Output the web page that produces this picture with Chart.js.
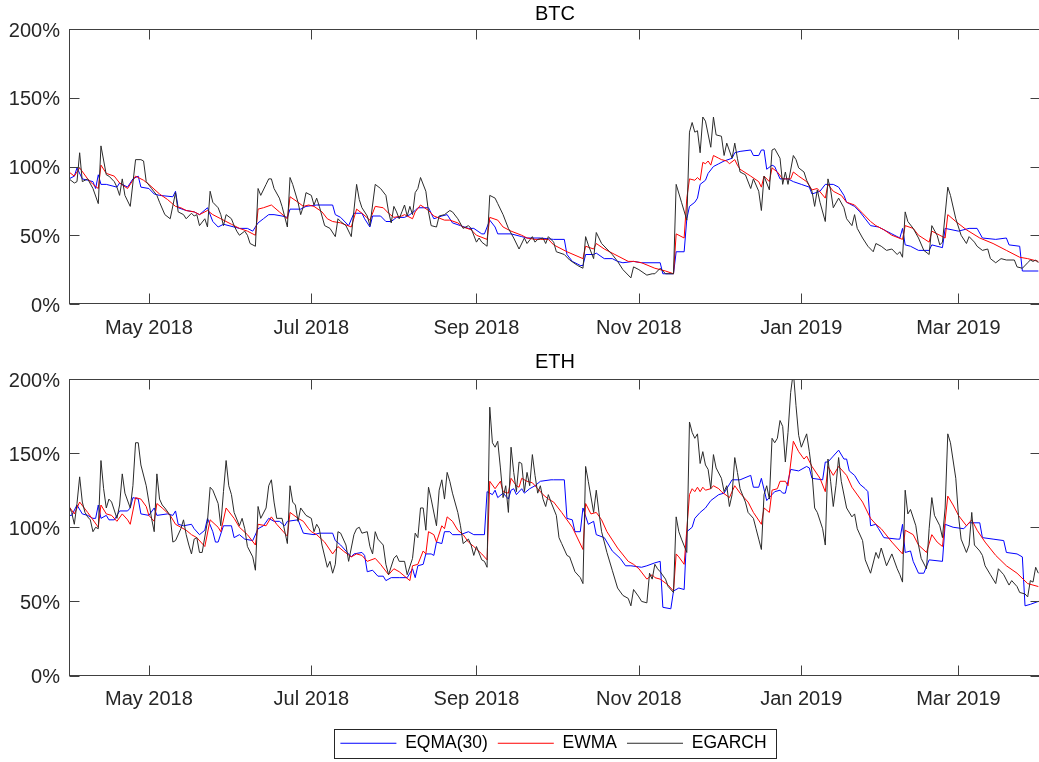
<!DOCTYPE html>
<html>
<head>
<meta charset="utf-8">
<title>BTC / ETH volatility</title>
<script src="https://cdn.jsdelivr.net/npm/chart.js@4.4.1/dist/chart.umd.min.js"></script>
<style>
  html, body { margin: 0; padding: 0; background: #fff; overflow: hidden; }
  #page { position: relative; width: 1039px; height: 762px; overflow: hidden; background: #fff; }
  #page canvas { position: absolute; left: 0; }
</style>
</head>
<body>
<div id="page">
  <canvas id="btc" width="1042" height="345" style="top:0"></canvas>
  <canvas id="eth" width="1042" height="417" style="top:345px"></canvas>
</div>
<script>
// Day offsets are counted from 1 April 2018 (day 0); the axis runs to 1 April 2019 (day 365).
const monthTickDays = [30, 91, 153, 214, 275, 334];
const monthTickLabels = ['May 2018', 'Jul 2018', 'Sep 2018', 'Nov 2018', 'Jan 2019', 'Mar 2019'];
const percentTicks = [0, 50, 100, 150, 200];
const seriesNames = ['EQMA(30)', 'EWMA', 'EGARCH'];

// Annualised volatility (%), [day, value]
const btcEqma = [[0,91],[2,93],[3,99],[5,91],[7,90],[9,89],[10,84],[11,94],[12,87],[14,87],[18,85],[19,88],[22,85],[24,91],[26,93],[27,85],[30,84],[32,80],[34,79],[39,78],[40,82],[41,70],[44,68],[47,67],[49,65],[52,70],[54,60],[56,56],[58,58],[62,56],[64,55],[67,55],[69,53],[71,59],[73,62],[75,65],[77,65],[80,64],[82,63],[83,69],[87,69],[89,71],[93,72],[99,72],[100,65],[102,63],[105,57],[107,66],[110,66],[111,62],[113,56],[114,64],[117,64],[119,60],[121,60],[123,63],[126,63],[128,65],[130,68],[131,70],[135,70],[137,62],[140,64],[142,65],[144,59],[147,57],[150,55],[152,55],[155,51],[156,51],[158,61],[160,56],[161,51],[166,51],[170,49],[172,48],[177,48],[182,47],[186,47],[187,36],[189,31],[192,28],[193,28],[194,36],[197,36],[198,37],[201,33],[204,33],[206,31],[208,30],[212,31],[215,30],[222,30],[223,22],[227,22],[228,38],[231,38],[232,62],[233,71],[235,74],[236,77],[237,87],[239,90],[240,95],[242,100],[244,102],[246,104],[249,106],[250,110],[252,111],[256,112],[257,108],[259,108],[260,112],[261,112],[262,98],[264,101],[265,100],[267,91],[269,91],[270,91],[272,89],[275,87],[278,85],[279,80],[282,82],[284,87],[287,87],[289,85],[291,79],[292,74],[295,71],[297,67],[299,62],[301,57],[304,56],[307,53],[309,51],[312,48],[313,55],[314,43],[316,42],[319,39],[323,39],[324,43],[328,41],[329,55],[334,53],[338,55],[341,55],[343,48],[348,47],[352,48],[353,43],[357,42],[358,24],[362,24],[364,24]];
const btcEwma = [[0,96],[2,93],[4,99],[7,91],[9,87],[11,84],[12,101],[14,95],[17,93],[19,88],[22,84],[25,93],[28,90],[30,87],[34,80],[37,76],[40,71],[42,70],[44,68],[47,67],[49,65],[52,68],[54,65],[57,62],[61,58],[64,55],[67,53],[70,50],[71,69],[73,70],[76,72],[79,67],[82,62],[83,78],[86,74],[88,71],[90,72],[92,71],[95,67],[97,62],[99,60],[102,59],[106,56],[108,69],[110,66],[113,61],[115,71],[118,70],[120,66],[122,63],[125,64],[126,65],[129,62],[130,67],[132,72],[135,68],[137,64],[141,61],[143,61],[146,59],[148,56],[151,54],[153,50],[157,47],[158,63],[161,61],[163,56],[166,53],[170,50],[172,48],[175,47],[177,47],[180,47],[182,43],[187,38],[193,33],[194,42],[197,40],[198,44],[201,40],[205,36],[210,31],[212,31],[215,30],[220,26],[224,24],[227,22],[228,51],[231,48],[232,77],[233,91],[235,90],[236,92],[237,90],[238,103],[239,102],[240,104],[241,101],[242,108],[244,106],[245,105],[247,104],[248,102],[250,105],[251,101],[252,98],[256,93],[259,89],[260,85],[261,93],[263,89],[264,99],[266,96],[268,91],[269,91],[271,91],[272,96],[274,93],[277,89],[279,83],[281,84],[284,77],[285,87],[287,82],[290,79],[292,74],[295,72],[298,66],[301,60],[303,57],[306,54],[309,50],[313,47],[314,57],[317,55],[319,50],[323,45],[324,53],[327,50],[329,48],[330,65],[333,60],[337,54],[342,48],[347,44],[352,39],[357,34],[360,33],[362,32],[364,31]];
const btcEgarch = [[0,91],[2,88],[3,89],[4,110],[5,89],[7,91],[9,84],[11,73],[12,115],[14,94],[15,93],[17,89],[18,85],[19,79],[20,91],[21,79],[23,71],[25,105],[27,105],[28,104],[29,89],[31,84],[33,79],[34,74],[36,65],[38,62],[40,81],[41,67],[43,65],[44,62],[46,66],[47,64],[48,65],[49,57],[51,62],[52,56],[53,82],[54,74],[56,70],[57,65],[58,57],[59,65],[61,62],[62,57],[63,53],[64,50],[66,53],[67,50],[68,44],[70,42],[71,84],[72,79],[74,87],[75,91],[76,91],[77,84],[79,77],[80,71],[82,56],[83,92],[84,87],[86,74],[87,65],[88,71],[89,81],[91,79],[92,72],[93,77],[94,71],[96,57],[98,55],[100,49],[101,62],[102,60],[104,57],[106,49],[108,87],[109,76],[110,70],[112,64],[113,57],[115,87],[117,84],[119,79],[120,67],[121,59],[122,71],[123,67],[124,62],[125,67],[126,72],[127,64],[128,71],[129,65],[130,81],[131,84],[132,92],[134,82],[135,67],[136,57],[138,56],[139,64],[141,65],[143,68],[144,67],[146,62],[148,55],[150,57],[151,55],[153,45],[154,48],[155,45],[157,42],[158,79],[160,77],[161,73],[163,65],[165,55],[167,48],[169,40],[171,48],[172,44],[174,49],[175,45],[176,47],[178,48],[179,44],[180,49],[182,45],[183,38],[186,36],[188,32],[191,28],[193,26],[194,49],[195,43],[197,33],[198,52],[200,44],[202,40],[204,36],[206,31],[208,25],[211,19],[212,27],[214,25],[217,21],[219,22],[220,22],[222,26],[224,22],[225,22],[227,22],[228,87],[230,74],[232,61],[233,125],[234,132],[235,125],[236,126],[237,110],[238,136],[239,133],[241,114],[242,136],[243,123],[245,122],[246,108],[247,117],[249,106],[250,117],[251,106],[252,96],[254,94],[256,84],[257,91],[259,82],[260,68],[261,93],[263,83],[264,112],[265,113],[267,106],[268,87],[269,96],[270,87],[272,108],[273,105],[274,99],[276,96],[277,90],[279,82],[280,71],[281,83],[282,74],[284,60],[285,91],[286,83],[287,70],[289,77],[291,70],[292,62],[294,57],[295,65],[296,55],[298,48],[300,42],[302,38],[303,44],[305,42],[307,39],[309,40],[311,36],[312,38],[313,34],[314,67],[315,60],[317,55],[319,48],[321,39],[323,36],[324,57],[326,50],[327,43],[328,45],[330,85],[331,79],[333,62],[335,50],[337,44],[338,49],[340,45],[341,42],[343,39],[345,40],[346,33],[348,30],[350,33],[352,32],[355,32],[356,27],[358,26],[360,30],[361,32],[362,31],[363,32],[364,30]];

const ethEqma = [[0,108],[1,108],[3,115],[5,109],[7,108],[9,106],[10,106],[11,115],[12,106],[14,108],[15,105],[17,105],[19,111],[22,111],[23,113],[24,120],[26,119],[27,109],[30,108],[32,113],[33,108],[37,109],[39,108],[40,111],[41,102],[43,101],[46,102],[47,99],[49,95],[51,98],[52,106],[54,97],[55,90],[56,90],[58,101],[61,101],[62,93],[64,95],[66,92],[69,91],[71,99],[73,101],[75,106],[77,104],[79,104],[81,101],[82,104],[86,105],[88,96],[92,95],[94,96],[99,96],[100,91],[102,88],[105,82],[106,80],[107,82],[110,83],[111,81],[112,70],[114,71],[116,67],[118,67],[119,64],[121,66],[124,66],[127,66],[129,72],[130,66],[131,74],[133,75],[134,82],[136,82],[137,81],[138,90],[140,89],[141,97],[143,97],[144,95],[147,95],[150,97],[152,95],[156,95],[157,124],[159,122],[160,125],[161,120],[163,123],[165,119],[166,125],[167,126],[168,122],[170,126],[171,123],[173,126],[175,128],[177,131],[181,132],[182,132],[186,132],[187,106],[189,105],[190,97],[192,97],[193,113],[195,102],[197,104],[198,95],[201,93],[204,84],[207,79],[209,74],[211,74],[215,73],[217,74],[220,76],[222,77],[223,46],[226,45],[227,57],[229,59],[231,58],[232,97],[234,100],[235,106],[237,110],[239,113],[241,118],[244,122],[246,123],[249,132],[252,132],[256,135],[257,127],[259,127],[260,133],[262,118],[264,122],[265,124],[267,125],[268,123],[269,123],[270,131],[271,139],[274,138],[277,141],[278,140],[279,133],[283,132],[284,144],[285,144],[287,148],[289,152],[291,146],[292,146],[293,138],[295,135],[297,129],[299,126],[300,124],[301,101],[303,102],[304,99],[306,93],[311,92],[312,92],[313,102],[314,83],[316,84],[317,77],[319,69],[321,69],[323,78],[328,77],[329,102],[332,100],[336,99],[338,103],[342,103],[343,93],[347,92],[351,91],[352,83],[356,82],[358,80],[359,47],[361,48],[364,50]];
const ethEwma = [[0,114],[2,109],[4,117],[7,110],[9,105],[11,100],[12,115],[14,109],[16,108],[18,104],[20,109],[22,105],[23,102],[25,120],[27,119],[29,114],[30,108],[32,104],[33,116],[35,113],[38,108],[40,102],[42,100],[44,98],[46,95],[48,93],[51,87],[53,105],[56,100],[57,97],[59,113],[62,106],[64,100],[67,95],[70,88],[71,102],[74,101],[76,107],[78,102],[82,94],[83,110],[86,106],[88,104],[90,99],[91,97],[93,95],[96,90],[99,82],[101,87],[103,84],[106,80],[108,82],[110,81],[112,77],[115,79],[117,75],[120,68],[122,72],[124,70],[128,64],[129,74],[131,75],[133,84],[134,82],[135,97],[137,95],[138,90],[140,101],[141,99],[142,107],[144,104],[146,98],[148,95],[150,90],[152,87],[155,82],[157,78],[158,131],[160,126],[162,131],[163,124],[165,123],[166,133],[168,128],[169,127],[170,133],[172,131],[174,130],[176,126],[178,122],[180,119],[182,117],[185,110],[189,100],[193,85],[194,116],[196,109],[198,110],[200,105],[202,97],[206,86],[210,77],[212,75],[214,72],[217,65],[219,68],[220,66],[222,65],[225,61],[227,57],[228,82],[229,80],[231,75],[233,122],[234,126],[235,124],[236,127],[237,124],[238,127],[239,125],[241,126],[242,128],[244,126],[245,124],[248,120],[250,128],[252,123],[255,117],[257,110],[260,102],[261,113],[263,110],[264,125],[266,126],[267,131],[269,131],[270,128],[272,158],[274,151],[276,146],[277,148],[279,141],[282,133],[284,124],[285,141],[287,135],[289,141],[292,135],[294,127],[298,117],[301,106],[303,102],[305,99],[309,90],[313,82],[314,98],[317,95],[319,88],[322,83],[324,95],[326,90],[328,87],[330,121],[332,115],[334,108],[337,101],[339,105],[341,98],[344,90],[348,81],[352,74],[356,69],[360,62],[362,61],[364,60]];
const ethEgarch = [[0,114],[1,110],[2,102],[3,116],[4,134],[5,117],[6,110],[7,107],[8,105],[9,97],[10,100],[11,99],[12,145],[13,126],[14,113],[15,119],[16,117],[18,106],[19,115],[20,136],[21,123],[23,113],[24,128],[25,157],[26,157],[27,142],[29,128],[30,117],[31,106],[32,97],[33,136],[34,119],[35,115],[36,113],[38,108],[39,90],[40,91],[42,99],[43,105],[44,95],[45,88],[46,82],[47,92],[48,93],[49,83],[50,83],[52,104],[53,127],[54,125],[56,116],[57,101],[58,124],[59,145],[60,128],[61,122],[62,110],[64,101],[65,106],[66,99],[67,87],[69,80],[70,71],[71,114],[72,106],[74,113],[75,128],[76,132],[77,117],[78,106],[80,106],[82,89],[83,128],[84,117],[85,115],[86,104],[87,113],[89,108],[91,106],[92,97],[93,102],[94,99],[95,88],[97,73],[98,77],[99,69],[100,75],[101,97],[102,96],[104,88],[105,77],[107,95],[108,99],[109,100],[110,96],[112,97],[113,87],[114,82],[115,97],[116,92],[118,88],[119,75],[120,68],[122,79],[123,81],[124,77],[126,77],[127,68],[129,79],[130,96],[131,93],[132,113],[133,113],[134,98],[135,127],[136,119],[138,101],[139,125],[140,132],[141,119],[142,137],[143,131],[144,123],[146,110],[147,101],[148,89],[150,92],[151,88],[152,81],[153,87],[155,78],[156,77],[157,73],[158,181],[159,157],[160,154],[161,158],[162,140],[163,120],[164,128],[165,110],[166,154],[167,137],[168,124],[169,144],[170,143],[171,124],[172,137],[173,128],[174,149],[175,135],[176,123],[177,128],[178,119],[179,114],[180,122],[181,117],[183,108],[184,93],[185,89],[187,81],[188,80],[190,70],[192,66],[193,62],[194,141],[195,131],[197,110],[198,125],[199,110],[200,97],[202,83],[204,71],[206,59],[208,54],[210,52],[211,47],[212,58],[214,53],[215,50],[217,49],[218,69],[219,65],[220,75],[221,72],[222,70],[224,65],[225,60],[227,56],[228,107],[229,97],[230,92],[232,83],[233,171],[234,164],[235,160],[236,163],[237,143],[238,151],[239,142],[240,139],[241,126],[242,149],[243,140],[245,133],[246,124],[247,128],[248,114],[249,122],[250,147],[251,137],[252,126],[254,117],[255,110],[257,106],[258,99],[259,92],[260,85],[261,122],[262,128],[263,119],[264,160],[265,157],[266,160],[267,172],[268,168],[269,144],[270,164],[271,191],[272,205],[273,182],[274,162],[275,154],[277,163],[278,151],[279,137],[280,113],[281,110],[283,99],[284,88],[285,146],[286,131],[287,114],[288,128],[289,147],[290,131],[292,113],[294,107],[295,109],[296,99],[298,91],[299,78],[301,69],[303,83],[304,79],[305,86],[307,74],[309,82],[311,72],[312,68],[313,63],[314,125],[315,109],[316,112],[318,101],[319,88],[320,79],[322,72],[323,99],[324,120],[325,108],[327,101],[328,93],[329,113],[330,163],[331,157],[333,133],[334,108],[335,92],[337,83],[338,88],[339,110],[340,88],[342,84],[343,81],[344,74],[346,68],[348,62],[349,72],[351,68],[353,61],[354,64],[356,60],[357,56],[359,55],[360,53],[361,64],[362,63],[363,73],[364,69]];

const FONT = '"Liberation Sans", Arial, Helvetica, sans-serif';
const AXIS_COLOR = '#262626';
const BOX_COLOR = '#404040';
const LINE_COLORS = ['#0000ff', '#ff0000', '#2b2b2b'];

Chart.defaults.font.family = FONT;
Chart.defaults.color = AXIS_COLOR;

// Box around the axes with inward tick marks on all four sides, plus the panel title.
const axesBox = {
  id: 'axesBox',
  afterDatasetsDraw(chart, args, opts) {
    const { ctx, chartArea: a, scales: { x, y } } = chart;
    const L = Math.round(a.left) + 0.5, R = Math.round(a.right) - 0.5;
    const T = Math.round(a.top) + 0.5, B = Math.round(a.bottom) - 0.5;
    const len = 10;
    ctx.save();
    ctx.strokeStyle = BOX_COLOR;
    ctx.lineWidth = 1;
    ctx.strokeRect(L, T, R - L, B - T);
    ctx.beginPath();
    x.ticks.forEach(t => {
      const px = Math.round(x.getPixelForValue(t.value)) + 0.5;
      ctx.moveTo(px, B); ctx.lineTo(px, B - len);
      ctx.moveTo(px, T); ctx.lineTo(px, T + len);
    });
    y.ticks.forEach(t => {
      const py = Math.round(y.getPixelForValue(t.value)) + 0.5;
      ctx.moveTo(L, py); ctx.lineTo(L + len, py);
      ctx.moveTo(R, py); ctx.lineTo(R - len, py);
    });
    ctx.stroke();
    if (opts.title) {
      ctx.fillStyle = '#000';
      ctx.font = '20px ' + FONT;
      ctx.textAlign = 'center';
      ctx.textBaseline = 'middle';
      ctx.fillText(opts.title, (a.left + a.right) / 2, a.top - opts.titleGap);
    }
    ctx.restore();
  }
};

// Centres the legend under the axes and draws its frame.
const legendFrame = {
  id: 'legendFrame',
  afterLayout(chart) {
    const lg = chart.legend;
    if (!lg || !lg.options.display) return;
    const a = chart.chartArea;
    const shift = (a.left + a.right) / 2 - 1.5 - (lg.left + lg.right) / 2;
    lg.left += shift;
    lg.right += shift;
  },
  afterDraw(chart) {
    const lg = chart.legend;
    if (!lg || !lg.options.display) return;
    const pad = lg.options.labels.padding;
    const fs = lg.options.labels.font.size;
    const c = (lg.left + lg.right) / 2;
    const w = lg.lineWidths[0] - pad;
    const left = Math.round(c - w / 2 - 6) + 0.5;
    const right = Math.round(c + w / 2 + 9) + 0.5;
    const yc = lg.top + pad + fs / 2;
    const top = Math.round(yc - 14.5) + 0.5;
    const bottom = Math.round(yc + 14.5) + 0.5;
    const ctx = chart.ctx;
    ctx.save();
    ctx.strokeStyle = AXIS_COLOR;
    ctx.lineWidth = 1;
    ctx.strokeRect(left, top, right - left, bottom - top);
    ctx.restore();
  }
};

function makeDatasets(series) {
  return series.map((pts, i) => ({
    label: seriesNames[i],
    data: pts.map(([d, v]) => ({ x: d, y: v })),
    borderColor: LINE_COLORS[i],
    backgroundColor: LINE_COLORS[i],
    borderWidth: 1,
    pointRadius: 0,
    tension: 0,
    fill: false,
    order: 3 - i
  }));
}

function makeChart(canvasId, series, title, layout) {
  return new Chart(document.getElementById(canvasId), {
    type: 'line',
    data: { datasets: makeDatasets(series) },
    plugins: [axesBox, legendFrame],
    options: {
      responsive: false,
      animation: false,
      events: [],
      devicePixelRatio: 1,
      layout: { padding: { top: layout.top, right: 1, bottom: 0, left: 0 } },
      scales: {
        x: {
          type: 'linear',
          min: 0,
          max: 365,
          afterBuildTicks(scale) { scale.ticks = monthTickDays.map(v => ({ value: v })); },
          afterFit(scale) { scale.height = layout.xHeight; },
          ticks: {
            autoSkip: false,
            maxRotation: 0,
            padding: 12,
            color: AXIS_COLOR,
            font: { size: 20 },
            callback: v => monthTickLabels[monthTickDays.indexOf(v)] ?? ''
          },
          grid: { display: false, drawTicks: false },
          border: { display: false }
        },
        y: {
          min: 0,
          max: 200,
          afterBuildTicks(scale) { scale.ticks = percentTicks.map(v => ({ value: v })); },
          afterFit(scale) { scale.width = 69; },
          ticks: {
            padding: 9,
            labelOffset: 2,
            color: AXIS_COLOR,
            font: { size: 20 },
            callback: v => v + '%'
          },
          grid: { display: false, drawTicks: false },
          border: { display: false }
        }
      },
      plugins: {
        axesBox: { title, titleGap: layout.titleGap },
        tooltip: { enabled: false },
        title: { display: false },
        legend: layout.legend ? {
          display: true,
          position: 'bottom',
          labels: {
            usePointStyle: true,
            pointStyle: 'line',
            pointStyleWidth: 56,
            padding: 10,
            color: '#000',
            font: { size: 17.5 },
            sort: (a, b) => a.datasetIndex - b.datasetIndex
          }
        } : { display: false }
      }
    }
  });
}

makeChart('btc', [btcEqma, btcEwma, btcEgarch], 'BTC', { top: 29, xHeight: 41, titleGap: 15, legend: false });
makeChart('eth', [ethEqma, ethEwma, ethEgarch], 'ETH', { top: 34, xHeight: 49, titleGap: 17, legend: true });
</script>
</body>
</html>
